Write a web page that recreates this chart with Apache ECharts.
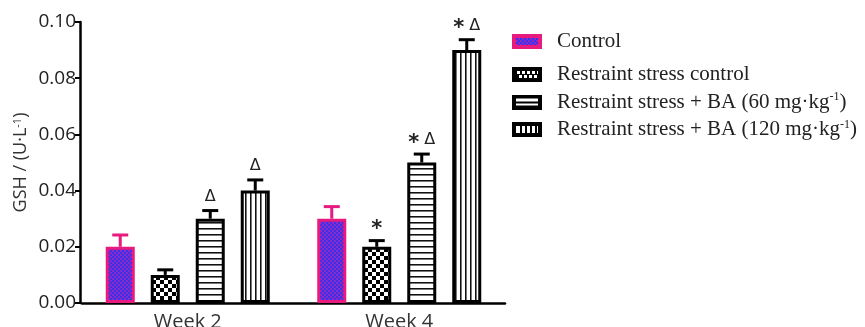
<!DOCTYPE html>
<html>
<head>
<meta charset="utf-8">
<script src="https://cdn.jsdelivr.net/npm/echarts@6/dist/echarts.min.js"></script>
<style>
  html, body { margin: 0; padding: 0; background: #fff; }
  #chart { width: 865px; height: 327px; }
</style>
</head>
<body>
<div id="chart"></div>
<script>
// GSH levels by group and week
const categories = ['Week 2', 'Week 4'];
const seriesNames = [
  'Control',
  'Restraint stress control',
  'Restraint stress + BA (60 mg·kg-1)',
  'Restraint stress + BA (120 mg·kg-1)'
];
const yTicks = [0, 0.02, 0.04, 0.06, 0.08, 0.10];

const controlMean = [0.020, 0.030];
const restraintMean = [0.010, 0.020];
const ba60Mean = [0.030, 0.050];
const ba120Mean = [0.040, 0.090];

const controlErr = [0.0042, 0.0043];
const restraintErr = [0.0018, 0.0022];
const ba60Err = [0.0029, 0.0030];
const ba120Err = [0.0038, 0.0037];

const controlMarks = ['', ''];
const restraintMarks = ['', '*'];
const ba60Marks = ['Δ', '* Δ'];
const ba120Marks = ['Δ', '* Δ'];

const means = [controlMean, restraintMean, ba60Mean, ba120Mean];
const errs = [controlErr, restraintErr, ba60Err, ba120Err];
const marks = [controlMarks, restraintMarks, ba60Marks, ba120Marks];

// fill patterns
function makeCanvas(w, h, draw) {
  const c = document.createElement('canvas');
  c.width = w; c.height = h;
  draw(c.getContext('2d'), w, h);
  return c;
}
function drawPurple(ctx, w, h) {
  ctx.fillStyle = '#8a2bc8'; ctx.fillRect(0, 0, w, h);
  ctx.fillStyle = '#3b31ec';
  for (let y = 0; y < h; y += 2) for (let x = (y / 2) % 2 * 2; x < w; x += 4) ctx.fillRect(x, y, 2, 2);
}
function drawChecker(ctx, w, h) {
  ctx.fillStyle = '#fff'; ctx.fillRect(0, 0, w, h);
  ctx.fillStyle = '#000';
  for (let y = 0; y < h; y += 4) for (let x = (y / 4) % 2 * 4; x < w; x += 8) ctx.fillRect(x, y, 4, 4);
}
function drawHStripes(ctx, w, h) {
  ctx.fillStyle = '#fff'; ctx.fillRect(0, 0, w, h);
  for (let y = 0; y < h; y += 6) {
    ctx.fillStyle = '#111'; ctx.fillRect(0, y, w, 1);
    ctx.fillStyle = '#777'; ctx.fillRect(0, y + 1, w, 1);
  }
}
function drawVStripes(ctx, w, h) {
  ctx.fillStyle = '#fff'; ctx.fillRect(0, 0, w, h);
  for (let x = 0; x < w; x += 5) {
    ctx.fillStyle = '#111'; ctx.fillRect(x, 0, 1, h);
    ctx.fillStyle = '#777'; ctx.fillRect(x + 1, 0, 1, h);
  }
}
const drawers = [drawPurple, drawChecker, drawHStripes, drawVStripes];
const tiles = [[4, 4], [8, 8], [6, 6], [5, 5]];
const fills = drawers.map((d, i) => ({ image: makeCanvas(tiles[i][0], tiles[i][1], d), repeat: 'repeat' }));
const borders = ['#e8197f', '#000', '#000', '#000'];

// legend keys: heavy frame around a small patch of the fill
const iconFill = [
  (ctx) => { drawPurple(ctx, 22, 7); },
  (ctx) => { ctx.fillStyle = '#000'; ctx.fillRect(0, 0, 22, 7); ctx.fillStyle = '#fff';
             for (let x = 1; x < 22; x += 5) { ctx.fillRect(x, 0, 3, 3); ctx.fillRect(x + 2, 4, 3, 3); } },
  (ctx) => { ctx.fillStyle = '#fff'; ctx.fillRect(0, 0, 22, 7); ctx.fillStyle = '#000'; ctx.fillRect(0, 3, 22, 2); },
  (ctx) => { ctx.fillStyle = '#fff'; ctx.fillRect(0, 0, 22, 7); ctx.fillStyle = '#000';
             for (let x = 4; x < 22; x += 5) ctx.fillRect(x, 0, 2, 7); }
];
const legendIcons = iconFill.map((f, i) => {
  const c = makeCanvas(30, 15, (ctx) => {
    ctx.fillStyle = borders[i]; ctx.fillRect(0, 0, 30, 15);
    const inner = makeCanvas(22, 7, f);
    ctx.drawImage(inner, 4, 4);
  });
  return 'image://' + c.toDataURL();
});

const BAR_W = 29;
const BAR_GAP = 16;
const STEP = BAR_W + BAR_GAP;

const chart = echarts.init(document.getElementById('chart'));

const barSeries = seriesNames.map((name, i) => ({
  name,
  type: 'bar',
  data: means[i],
  barWidth: BAR_W,
  barGap: (BAR_GAP / BAR_W * 100) + '%',
  itemStyle: { color: fills[i], borderColor: borders[i], borderWidth: 3 },
  emphasis: { disabled: true },
  z: 2
}));

// error bars with significance marks, one custom series per group
const errSeries = seriesNames.map((name, i) => ({
  type: 'custom',
  name: name + ' err',
  z: 3,
  silent: true,
  data: means[i].map((m, j) => [j, m, errs[i][j]]),
  renderItem: (params, api) => {
    const j = api.value(0);
    const m = api.value(1);
    const e = api.value(2);
    const mark = marks[i][j];
    const base = api.coord([j, m]);
    const top = api.coord([j, m + e]);
    const x = base[0] + (i - 1.5) * STEP;
    const color = borders[i];
    const children = [
      { type: 'line', shape: { x1: x, y1: base[1], x2: x, y2: top[1] },
        style: { stroke: color, lineWidth: 3 } },
      { type: 'line', shape: { x1: x - 8, y1: top[1], x2: x + 8, y2: top[1] },
        style: { stroke: color, lineWidth: 3 } }
    ];
    if (mark) {
      const parts = mark.split(' ');
      const rich = parts.map((t, k) => (t === '*' ? (k < parts.length - 1 ? '{stg|*}' : '{st|*}') : '{d|Δ}')).join('');
      children.push({
        type: 'text',
        x: x, y: top[1] - 5,
        style: {
          text: rich, x: 0, y: 0,
          align: 'center', verticalAlign: 'bottom',
          fill: '#222',
          rich: {
            st: { fontFamily: 'DejaVu Sans', fontWeight: 'bold', fontSize: 21, fill: '#222', lineHeight: 18, padding: [6, 0, 0, 0] },
            stg: { fontFamily: 'DejaVu Sans', fontWeight: 'bold', fontSize: 21, fill: '#222', lineHeight: 18, padding: [6, 5, 0, 0] },
            d: { fontFamily: 'DejaVu Sans', fontSize: 16, fill: '#222', lineHeight: 18 }
          }
        }
      });
    }
    return { type: 'group', children };
  }
}));

function legendText(name) {
  const k = name.indexOf('-1');
  if (k < 0) return '{a|' + name + '}';
  return '{a|' + name.slice(0, k) + '}{s|-1}{a|' + name.slice(k + 2) + '}';
}
const legendStyle = {
  fontFamily: 'Liberation Serif',
  fontSize: 21,
  color: '#222',
  padding: [0, 0, 0, 10],
  rich: {
    a: { fontFamily: 'Liberation Serif', fontSize: 21, color: '#222', lineHeight: 22 },
    s: { fontFamily: 'Liberation Serif', fontSize: 12, color: '#222', verticalAlign: 'top', lineHeight: 14 }
  }
};
const legendBase = {
  left: 512, orient: 'vertical', padding: 0,
  itemWidth: 30, itemHeight: 15, itemGap: 6,
  formatter: legendText, textStyle: legendStyle, selectedMode: false
};

chart.setOption({
  animation: false,
  backgroundColor: '#fff',
  grid: { left: 82, right: 360, top: 22, bottom: 24, containLabel: false, outerBoundsMode: 'none' },
  legend: [
    Object.assign({}, legendBase, {
      data: [{ name: seriesNames[0], icon: legendIcons[0] }], top: 31
    }),
    Object.assign({}, legendBase, {
      data: seriesNames.slice(1).map((n, k) => ({ name: n, icon: legendIcons[k + 1] })), top: 64
    })
  ],
  xAxis: {
    type: 'category',
    data: categories,
    axisLine: { lineStyle: { color: '#000', width: 2.5 } },
    axisTick: { alignWithLabel: true, length: 6, lineStyle: { color: '#000', width: 2 } },
    axisLabel: { fontFamily: 'Open Sans', fontSize: 20, color: '#333', margin: 9 }
  },
  yAxis: {
    type: 'value',
    min: yTicks[0],
    max: yTicks[yTicks.length - 1],
    interval: 0.02,
    offset: 2,
    name: 'GSH / (U·L{s|-1})',
    nameLocation: 'middle',
    nameGap: 50,
    nameTextStyle: {
      fontFamily: 'Open Sans', fontSize: 18, color: '#333',
      rich: { s: { fontFamily: 'Open Sans', fontSize: 11, color: '#333', verticalAlign: 'top', lineHeight: 14 } }
    },
    splitLine: { show: false },
    axisLine: { show: true, lineStyle: { color: '#000', width: 2.5 } },
    axisTick: { show: true, length: 5, lineStyle: { color: '#000', width: 2 } },
    axisLabel: {
      fontFamily: 'Open Sans', fontSize: 19, color: '#222', margin: 4,
      formatter: (v) => v.toFixed(2)
    }
  },
  series: barSeries.concat(errSeries)
});
</script>
</body>
</html>
